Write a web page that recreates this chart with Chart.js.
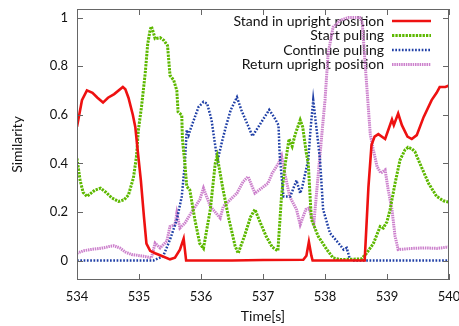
<!DOCTYPE html>
<html>
<head>
<meta charset="utf-8">
<script src="https://cdn.jsdelivr.net/npm/chart.js@4/dist/chart.umd.min.js"></script>
<style>
  html, body { margin: 0; padding: 0; background: #fff; }
  #wrap { width: 459px; height: 326px; }
</style>
</head>
<body>
<div id="wrap"><canvas id="simChart" width="459" height="326"></canvas></div>
<script>
// values: [time, similarity]
const standUpright = [
  [534.00, 0.55], [534.08, 0.66], [534.16, 0.70], [534.25, 0.69], [534.33, 0.67],
  [534.42, 0.65], [534.50, 0.67], [534.60, 0.685], [534.74, 0.714], [534.78, 0.705],
  [534.83, 0.67], [534.90, 0.60], [534.94, 0.55], [534.98, 0.45], [535.03, 0.33],
  [535.08, 0.18], [535.12, 0.07], [535.18, 0.04], [535.26, 0.03], [535.36, 0.02],
  [535.50, 0.005], [535.58, 0.012], [535.66, 0.045], [535.72, 0.09], [535.76, 0.0],
  [536.50, 0.0], [537.00, 0.002], [537.65, 0.003], [537.70, 0.02], [537.74, 0.077],
  [537.78, 0.02], [537.80, 0.0], [538.64, 0.0], [538.70, 0.30], [538.75, 0.475],
  [538.80, 0.51], [538.86, 0.52], [538.97, 0.50], [539.08, 0.58], [539.11, 0.557],
  [539.18, 0.605], [539.24, 0.557], [539.33, 0.51], [539.40, 0.50], [539.48, 0.516],
  [539.59, 0.59], [539.72, 0.66], [539.80, 0.69], [539.85, 0.714], [539.94, 0.714],
  [540.00, 0.72]
]
const startPulling = [
  [534.00, 0.42], [534.05, 0.33], [534.10, 0.28], [534.16, 0.264], [534.29, 0.29],
  [534.38, 0.298], [534.47, 0.28], [534.56, 0.258], [534.67, 0.243], [534.76, 0.25],
  [534.83, 0.27], [534.91, 0.34], [534.96, 0.43], [534.99, 0.537], [535.04, 0.632],
  [535.10, 0.77], [535.14, 0.89], [535.18, 0.95], [535.20, 0.963], [535.23, 0.94],
  [535.26, 0.913], [535.34, 0.917], [535.40, 0.906], [535.46, 0.885], [535.50, 0.762],
  [535.56, 0.742], [535.61, 0.70], [535.63, 0.612], [535.69, 0.598], [535.70, 0.50],
  [535.74, 0.40], [535.77, 0.305], [535.82, 0.29], [535.90, 0.17], [535.98, 0.07],
  [536.04, 0.05], [536.15, 0.21], [536.23, 0.40], [536.26, 0.43], [536.35, 0.30],
  [536.45, 0.17], [536.55, 0.06], [536.60, 0.03], [536.70, 0.10], [536.80, 0.18],
  [536.87, 0.21], [536.95, 0.16], [537.05, 0.10], [537.15, 0.055], [537.24, 0.04],
  [537.30, 0.27], [537.36, 0.40], [537.42, 0.50], [537.47, 0.47], [537.52, 0.52],
  [537.60, 0.578], [537.64, 0.55], [537.70, 0.44], [537.73, 0.40], [537.78, 0.17],
  [537.89, 0.10], [538.03, 0.045], [538.13, 0.011], [538.24, 0.004], [538.59, 0.007],
  [538.67, 0.03], [538.78, 0.07], [538.89, 0.14], [538.94, 0.134], [539.00, 0.16],
  [539.05, 0.21], [539.13, 0.318], [539.21, 0.414], [539.29, 0.455], [539.34, 0.466],
  [539.40, 0.46], [539.45, 0.448], [539.53, 0.40], [539.67, 0.318], [539.80, 0.264],
  [539.91, 0.246], [540.00, 0.24]
]
const continuePulling = [
  [534.00, 0.0], [535.23, 0.0], [535.39, 0.018], [535.50, 0.086], [535.61, 0.168],
  [535.69, 0.264], [535.74, 0.40], [535.77, 0.537], [535.80, 0.516], [535.83, 0.54],
  [535.96, 0.632], [536.04, 0.653], [536.10, 0.646], [536.17, 0.578], [536.24, 0.455],
  [536.27, 0.414], [536.33, 0.48], [536.40, 0.55], [536.48, 0.62], [536.58, 0.672],
  [536.65, 0.62], [536.75, 0.56], [536.83, 0.512], [536.95, 0.56], [537.05, 0.60],
  [537.10, 0.62], [537.18, 0.59], [537.25, 0.557], [537.27, 0.43], [537.33, 0.264],
  [537.44, 0.264], [537.54, 0.33], [537.60, 0.277], [537.63, 0.30], [537.73, 0.414],
  [537.77, 0.55], [537.81, 0.66], [537.86, 0.55], [537.92, 0.414], [537.97, 0.21],
  [538.08, 0.113], [538.24, 0.065], [538.30, 0.045], [538.35, 0.052], [538.40, 0.007],
  [538.45, 0.0], [540.00, 0.0]
]
const returnUpright = [
  [534.00, 0.03], [534.10, 0.04], [534.21, 0.045], [534.42, 0.052], [534.52, 0.058],
  [534.59, 0.061], [534.69, 0.052], [534.78, 0.035], [534.88, 0.025], [535.07, 0.018],
  [535.20, 0.011], [535.26, 0.072], [535.34, 0.052], [535.45, 0.08], [535.50, 0.14],
  [535.58, 0.148], [535.61, 0.195], [535.66, 0.134], [535.74, 0.154], [535.85, 0.20],
  [535.98, 0.25], [536.04, 0.298], [536.15, 0.223], [536.31, 0.175], [536.36, 0.223],
  [536.58, 0.277], [536.68, 0.325], [536.76, 0.345], [536.87, 0.277], [537.08, 0.318],
  [537.15, 0.36], [537.25, 0.40], [537.30, 0.43], [537.35, 0.36], [537.43, 0.264],
  [537.54, 0.21], [537.60, 0.148], [537.69, 0.21], [537.74, 0.216], [537.82, 0.154],
  [537.90, 0.38], [537.96, 0.55], [538.00, 0.66], [538.05, 0.85], [538.13, 0.96],
  [538.19, 0.974], [538.24, 0.988], [538.38, 1.0], [538.56, 1.0], [538.60, 0.98],
  [538.67, 0.73], [538.73, 0.52], [538.78, 0.455], [538.84, 0.386], [538.90, 0.36],
  [538.97, 0.373], [539.02, 0.29], [539.08, 0.21], [539.13, 0.10], [539.18, 0.045],
  [539.40, 0.05], [539.60, 0.052], [539.80, 0.05], [540.00, 0.056]
]

const seriesNames = ['Stand in upright position', 'Start pulling', 'Continue pulling', 'Return upright position']
const xTicks = [534, 535, 536, 537, 538, 539, 540]
const xTickLabels = ['534', '535', '536', '537', '538', '539', '540']
const yTicks = [0, 0.2, 0.4, 0.6, 0.8, 1]
const yTickLabels = ['0', '0.2', '0.4', '0.6', '0.8', '1']

const FONT = 'Lato, "Open Sans", sans-serif'

const toPoints = arr => arr.map(p => ({ x: p[0], y: p[1] }))

// gnuplot style frame with inward ticks on all four sides
const framePlugin = {
  id: 'frame',
  afterDraw(chart) {
    const { ctx, chartArea: a, scales } = chart
    ctx.save()
    ctx.strokeStyle = '#666'
    ctx.lineWidth = 1
    ctx.strokeRect(a.left + 0.5, a.top + 0.5, a.right - a.left - 1, a.bottom - a.top - 1)
    ctx.beginPath()
    xTicks.forEach(v => {
      const x = Math.round(scales.x.getPixelForValue(v)) + 0.5
      ctx.moveTo(x, a.bottom); ctx.lineTo(x, a.bottom - 6)
      ctx.moveTo(x, a.top); ctx.lineTo(x, a.top + 6)
    })
    yTicks.forEach(v => {
      const y = Math.round(scales.y.getPixelForValue(v)) + 0.5
      ctx.moveTo(a.left, y); ctx.lineTo(a.left + 6, y)
      ctx.moveTo(a.right, y); ctx.lineTo(a.right - 6, y)
    })
    ctx.stroke()
    ctx.restore()
  }
}

// key in the top right: right aligned text, sample line after it
const keyPlugin = {
  id: 'key',
  beforeDatasetsDraw(chart) {
    const { ctx } = chart
    ctx.save()
    ctx.font = '14px ' + FONT
    ctx.textAlign = 'right'
    ctx.textBaseline = 'middle'
    chart.data.datasets.forEach((ds, i) => {
      const y = 21 + i * 14.5
      ctx.fillStyle = '#111'
      ctx.fillText(ds.label, 384, y)
      ctx.strokeStyle = ds.borderColor
      ctx.lineWidth = ds.borderWidth
      ctx.setLineDash(ds.borderDash || [])
      ctx.beginPath()
      ctx.moveTo(392, y)
      ctx.lineTo(431, y)
      ctx.stroke()
    })
    ctx.restore()
  }
}

const canvas = document.getElementById('simChart')
new Chart(canvas.getContext('2d'), {
  type: 'line',
  data: {
    datasets: [{
      label: seriesNames[0],
      data: toPoints(standUpright),
      borderColor: '#ee1111',
      borderWidth: 2.6
    }, {
      label: seriesNames[1],
      data: toPoints(startPulling),
      borderColor: '#5db800',
      borderWidth: 3,
      borderDash: [2.3, 1.1]
    }, {
      label: seriesNames[2],
      data: toPoints(continuePulling),
      borderColor: '#1f3fa6',
      borderWidth: 2.5,
      borderDash: [1.7, 1.6]
    }, {
      label: seriesNames[3],
      data: toPoints(returnUpright),
      borderColor: '#cc80cc',
      borderWidth: 3,
      borderDash: [1.5, 0.8]
    }]
  },
  options: {
    responsive: false,
    animation: false,
    devicePixelRatio: 1,
    elements: {
      point: { radius: 0 },
      line: { tension: 0, borderCapStyle: 'butt' }
    },
    layout: { padding: { top: 9, right: 10, left: 0, bottom: 0 } },
    plugins: {
      legend: { display: false },
      tooltip: { enabled: false }
    },
    scales: {
      x: {
        type: 'linear',
        min: 534,
        max: 540,
        afterBuildTicks: s => { s.ticks = xTicks.map(v => ({ value: v })) },
        afterFit: s => {
          s.height = 46
          s.paddingLeft = 0
          s.paddingRight = 0
        },
        ticks: {
          padding: 9,
          color: '#111',
          font: { family: FONT, size: 13 },
          callback: v => xTickLabels[xTicks.indexOf(v)]
        },
        grid: { display: false, drawTicks: false },
        border: { display: false },
        title: {
          display: true,
          text: 'Time[s]',
          color: '#111',
          font: { family: FONT, size: 14 },
          padding: { top: 0, bottom: 1 }
        }
      },
      y: {
        type: 'linear',
        min: -0.08,
        max: 1.035,
        afterBuildTicks: s => { s.ticks = yTicks.map(v => ({ value: v })) },
        afterFit: s => {
          s.width = 77
          s.paddingTop = 0
          s.paddingBottom = 0
        },
        ticks: {
          padding: 9,
          color: '#111',
          font: { family: FONT, size: 13 },
          callback: v => yTickLabels[yTicks.indexOf(v)]
        },
        grid: { display: false, drawTicks: false },
        border: { display: false },
        title: {
          display: true,
          text: 'Similarity',
          color: '#111',
          font: { family: FONT, size: 14 },
          padding: { top: 9, bottom: 0 }
        }
      }
    }
  },
  plugins: [framePlugin, keyPlugin]
})
</script>
</body>
</html>
